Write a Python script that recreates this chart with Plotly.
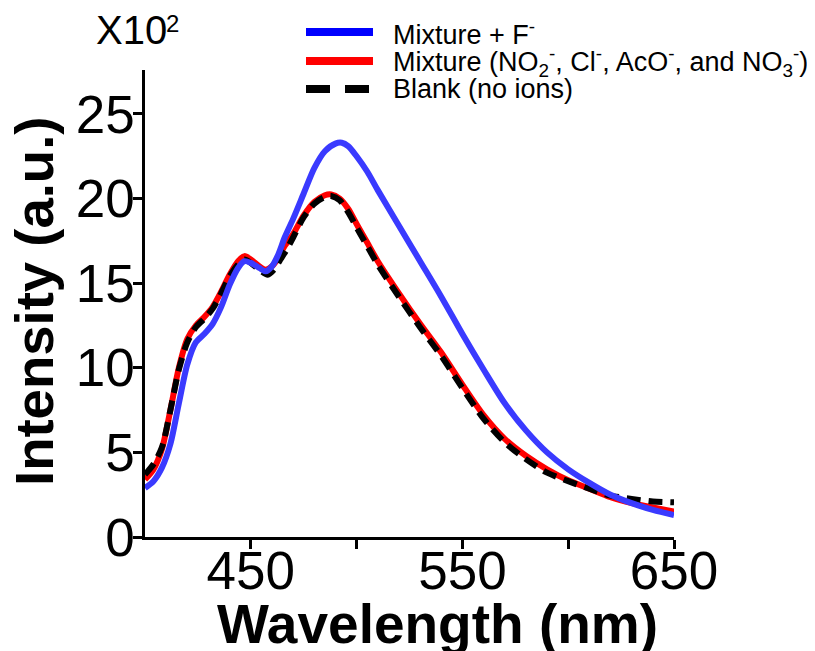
import plotly.graph_objects as go

# ---------------- data ----------------
wl_blue = [400, 404, 408, 412, 416, 420, 424, 428, 432, 436, 440, 444, 447, 450, 454, 457, 460, 463, 466,
           470, 475, 480, 485, 490, 493, 496, 500, 505, 510, 520, 530, 540, 550, 560, 570, 580, 590,
           600, 610, 620, 630, 640, 650]
int_blue = [2.9, 3.3, 4.1, 5.5, 7.9, 10.2, 11.5, 12.0, 12.6, 13.6, 14.9, 15.9, 16.3, 16.2, 15.9, 15.7, 16.0, 16.7, 17.7,
            18.8, 20.3, 21.8, 22.8, 23.25, 23.3, 23.1, 22.5, 21.6, 20.5, 18.4, 16.3, 14.2, 12.0, 9.9, 7.9, 6.3, 5.0,
            4.0, 3.2, 2.5, 2.0, 1.6, 1.3]

wl_red = [400, 404, 408, 412, 416, 420, 424, 428, 432, 436, 440, 444, 447, 450, 454, 457, 460, 463, 466,
          470, 475, 480, 485, 488, 492, 496, 500, 505, 510, 520, 530, 540, 550, 560, 570, 580, 590,
          600, 610, 620, 630, 640, 650]
int_red = [3.4, 4.0, 5.2, 7.5, 10.0, 11.7, 12.5, 13.0, 13.6, 14.5, 15.5, 16.3, 16.6, 16.4, 16.0, 15.8, 16.0, 16.5, 17.2,
           17.9, 19.0, 19.8, 20.2, 20.25, 20.0, 19.4, 18.5, 17.4, 16.3, 14.4, 12.6, 10.9, 9.0, 7.2, 5.8, 4.8, 4.0,
           3.35, 2.85, 2.35, 2.0, 1.75, 1.5]

wl_black = [400, 404, 408, 412, 416, 420, 424, 428, 432, 436, 440, 444, 447, 450, 454, 458, 461, 464, 467,
            470, 475, 480, 485, 488, 492, 496, 500, 505, 510, 520, 530, 540, 550, 560, 570, 580, 590,
            600, 610, 620, 630, 640, 650]
int_black = [3.7, 4.3, 5.3, 7.5, 9.9, 11.5, 12.4, 12.9, 13.5, 14.4, 15.4, 16.1, 16.4, 16.2, 15.8, 15.5, 15.8, 16.4, 17.0,
             17.7, 18.9, 19.7, 20.1, 20.15, 19.9, 19.2, 18.3, 17.2, 16.1, 14.2, 12.4, 10.7, 8.8, 7.0, 5.6, 4.6, 3.8,
             3.3, 2.85, 2.45, 2.25, 2.1, 2.05]

names = ["Mixture + F<sup>-</sup>",
         "Mixture (NO<sub>2</sub><sup>-</sup>, Cl<sup>-</sup>, AcO<sup>-</sup>, and NO<sub>3</sub><sup>-</sup>)",
         "Blank (no ions)"]

x_ticks = [450, 550, 650]
x_minor = [500, 600]
y_ticks = [0, 5, 10, 15, 20, 25]

BLUE = "#3a3aff"
RED = "#ff0000"
BLACK = "#000000"
FONT = "Liberation Sans, Arial, sans-serif"

# the page body adds an 8px margin, so the figure is laid out 8px smaller
OFF = 8
W, H = 815 - OFF, 651 - OFF
L, R, T, B = 137, 141, 62, 114
PW, PH = W - L - R, H - T - B


def px(sx):  # screen pixel -> paper x
    return (sx - OFF - L) / PW


def py(sy):  # screen pixel -> paper y
    return (H - B - (sy - OFF)) / PH


fig = go.Figure()
fig.add_trace(go.Scatter(x=wl_red, y=int_red, mode="lines", name=names[1], showlegend=False,
                         line=dict(color=RED, width=6, shape="spline", smoothing=0.8)))
fig.add_trace(go.Scatter(x=wl_black, y=int_black, mode="lines", name=names[2], showlegend=False,
                         line=dict(color=BLACK, width=6, dash="14px,8px", shape="spline", smoothing=0.8)))
fig.add_trace(go.Scatter(x=wl_blue, y=int_blue, mode="lines", name=names[0], showlegend=False,
                         line=dict(color=BLUE, width=6, shape="spline", smoothing=0.8)))

# legend drawn as line samples + text
leg_line_rows = [32, 61, 89]
leg_text_rows = [33, 62, 89]
leg_colors = ["#0000ff", RED, BLACK]
leg_dash = ["solid", "solid", "24px,15px"]
shapes = []
annotations = []
for i in range(3):
    shapes.append(dict(type="line", xref="paper", yref="paper", x0=px(306), x1=px(373),
                       y0=py(leg_line_rows[i]), y1=py(leg_line_rows[i]),
                       line=dict(color=leg_colors[i], width=8, dash=leg_dash[i])))
    annotations.append(dict(xref="paper", yref="paper", x=px(391), y=py(leg_text_rows[i]),
                            xanchor="left", yanchor="middle", showarrow=False, text=names[i],
                            font=dict(family=FONT, size=27, color="black")))

# axis multiplier "X10^2"
annotations.append(dict(xref="paper", yref="paper", x=px(94), y=py(30), xanchor="left", yanchor="middle",
                        showarrow=False, text="X10",
                        font=dict(family=FONT, size=40, color="black")))
annotations.append(dict(xref="paper", yref="paper", x=px(164), y=py(24), xanchor="left", yanchor="middle",
                        showarrow=False, text="2",
                        font=dict(family=FONT, size=24, color="black")))

# axis titles
annotations.append(dict(xref="paper", yref="paper", x=px(437), y=py(624), xanchor="center", yanchor="middle",
                        showarrow=False, text="Wavelength (nm)",
                        font=dict(family=FONT, size=55, color="black", weight="bold")))
annotations.append(dict(xref="paper", yref="paper", x=px(34), y=py(302), xanchor="center", yanchor="middle",
                        showarrow=False, text="Intensity (a.u.)", textangle=-90,
                        font=dict(family=FONT, size=54.5, color="black", weight="bold")))

fig.update_layout(
    width=W, height=H,
    margin=dict(l=L, r=R, t=T, b=B, autoexpand=False),
    paper_bgcolor="white", plot_bgcolor="white",
    font=dict(family=FONT, color="black"),
    shapes=shapes, annotations=annotations,
    showlegend=False,
)
fig.update_xaxes(
    range=[400, 650], tickmode="array", tickvals=x_ticks, ticktext=[str(v) for v in x_ticks],
    showgrid=False, zeroline=False, showline=True, linecolor="black", linewidth=2.5,
    ticks="outside", ticklen=9, tickwidth=2.5, tickcolor="black", ticklabelstandoff=-23,
    tickfont=dict(family=FONT, size=53, color="black"),
    minor=dict(tickmode="array", tickvals=x_minor, ticks="outside", ticklen=9, tickwidth=2.5, tickcolor="black"),
)
fig.update_yaxes(
    range=[0, 27.6], tickmode="array", tickvals=y_ticks, ticktext=[str(v) for v in y_ticks],
    showgrid=False, zeroline=False, showline=True, linecolor="black", linewidth=2.5,
    ticks="outside", ticklen=9, tickwidth=2.5, tickcolor="black", ticklabelstandoff=-12,
    tickfont=dict(family=FONT, size=53, color="black"),
)

fig.write_html("out.html")
